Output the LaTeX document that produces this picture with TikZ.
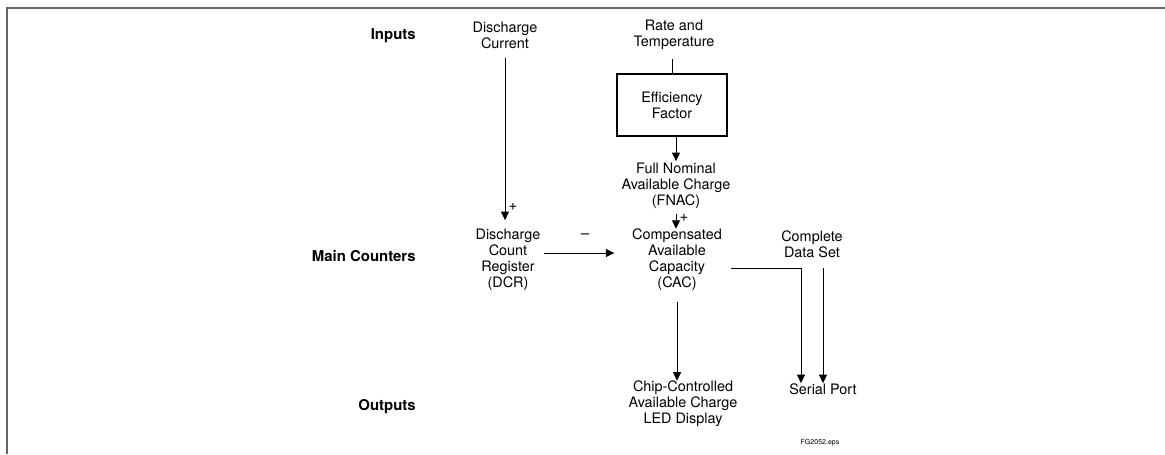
\documentclass[tikz,border=0pt]{standalone}
\usepackage{fontspec}
\setmainfont{TeX Gyre Heros}
\usepackage{tikz}
\usetikzlibrary{arrows.meta,calc}
\tikzset{
  txt/.style={align=center,inner sep=0pt,font=\fontsize{8.2}{9.1}\selectfont},   % plain label
  rowlbl/.style={anchor=east,inner sep=0pt,font=\fontsize{8.5}{9}\selectfont\bfseries},
  blk/.style={txt,draw=black,line width=1.2pt,minimum width=2.2cm,minimum height=1.24cm},
  arr/.style={-{Triangle[length=1.7mm,width=1.6mm]},line width=0.5pt},
  wire/.style={line width=0.5pt},
  sgn/.style={inner sep=0pt,font=\fontsize{8.5}{9}\selectfont},
}

\begin{document}
\begin{tikzpicture}[x=0.02cm,y=-0.02cm]
  \useasboundingbox (0,0) rectangle (1165,454);
  \draw[gray!80!black,line width=0.6pt] (7,454) -- (7,8) -- (1165,8);
  % row labels
  \node[rowlbl] (inp) at (416,36) {Inputs};
  \node[rowlbl] (mainc) at (416,256) {Main Counters};
  \node[rowlbl] (outp) at (416,407) {Outputs};
  % inputs
  \node[txt] (dc) at (505,35) {Discharge\\Current};
  \node[txt] (rt) at (674,35) {Rate and\\Temperature};
  \node[blk] (eff) at (672,105) {Efficiency\\Factor};
  \node[txt] (fnac) at (676,186) {Full Nominal\\Available Charge\\(FNAC)};
  % counters
  \node[txt] (dcr) at (508,260) {Discharge\\Count\\Register\\(DCR)};
  \node[txt] (cac) at (677,260) {Compensated\\Available\\Capacity\\(CAC)};
  \node[txt] (cds) at (812,244) {Complete\\Data Set};
  % outputs
  \node[txt] (led) at (683,404) {Chip-Controlled\\Available Charge\\LED Display};
  \node[txt] (sp) at (823,389) {Serial Port};
  \node[sgn,font=\fontsize{4}{5}\selectfont] (fg) at (820,443) {FG2052.eps};
  \coordinate (spin) at ($(sp.north)+(-22,0)$);
  % connectors
  \draw[arr,shorten <=5pt,shorten >=5pt] (dc.south) -- (dc.south |- dcr.north);
  \draw[wire,shorten <=5pt] (rt.south -| eff.north) -- (eff.north);
  \draw[arr,shorten >=1pt] (fnac.north |- eff.south) -- (fnac.north);
  \draw[arr,shorten <=3pt] (fnac.south) -- (fnac.south |- cac.north);
  \draw[arr,shorten <=2pt,shorten >=10pt] (dcr.east |- 0,253) -- (cac.west |- 0,253);
  \draw[arr,shorten <=6pt] (cac.south) -- (cac.south |- led.north);
  \draw[arr,shorten <=5pt] (cac.east |- 0,268) -| (spin);
  \draw[arr,shorten <=6pt] (cds.south -| sp.north) -- (sp.north);
  % signs
  \node[sgn] (pdc) at (513,207) {+};
  \node[sgn] (pcac) at (684,218) {+};
  \node[sgn] (mdcr) at (585,236) {\textendash};
\end{tikzpicture}
\end{document}
